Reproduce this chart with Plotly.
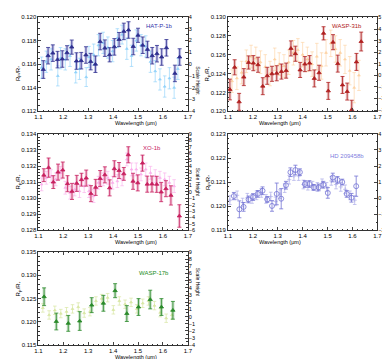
import plotly.graph_objects as go

# ---- HAT-P-1b ----
hat_wl = [1.120, 1.139, 1.158, 1.177, 1.196, 1.215, 1.234, 1.253, 1.272, 1.291, 1.310, 1.329, 1.348, 1.367, 1.386,
          1.405, 1.424, 1.443, 1.462, 1.481, 1.500, 1.519, 1.538, 1.557, 1.576, 1.595, 1.614, 1.648, 1.667]
hat_rp = [0.11554, 0.11671, 0.11693, 0.11638, 0.11643, 0.11696, 0.11744, 0.11626, 0.11629, 0.11677, 0.11621, 0.11599,
          0.11791, 0.11735, 0.11679, 0.11746, 0.11808, 0.11877, 0.11889, 0.11749, 0.11844, 0.11760, 0.11724, 0.11671,
          0.11688, 0.11660, 0.11738, 0.11521, 0.11660]
hat_err = [0.00075, 0.0007, 0.0007, 0.0007, 0.0007, 0.0006, 0.0006, 0.0007, 0.0007, 0.0007, 0.0007, 0.0007,
           0.0007, 0.0007, 0.0006, 0.0007, 0.0006, 0.0007, 0.0007, 0.0007, 0.0006, 0.0007, 0.0007, 0.0007,
           0.0007, 0.0007, 0.0007, 0.0007, 0.0007]
hat_wl2 = [1.113, 1.132, 1.151, 1.178, 1.189, 1.208, 1.227, 1.250, 1.265, 1.292, 1.303, 1.322, 1.341, 1.360, 1.379,
           1.398, 1.417, 1.436, 1.455, 1.474, 1.493, 1.512, 1.531, 1.550, 1.569, 1.588, 1.607, 1.626, 1.645, 1.660]
hat_rp2 = [0.1157, 0.1162, 0.1164, 0.1150, 0.1165, 0.1164, 0.1167, 0.1153, 0.1156, 0.1149, 0.1166, 0.1168, 0.1176,
           0.1178, 0.1174, 0.1171, 0.1182, 0.1185, 0.1173, 0.1167, 0.1180, 0.1176, 0.1175, 0.1162, 0.1154, 0.1147,
           0.1141, 0.1148, 0.1140, 0.1156]
hat_err2 = [0.0009, 0.0009, 0.0009, 0.00085, 0.0009, 0.0009, 0.0009, 0.0009, 0.0009, 0.0008, 0.0009, 0.0009, 0.0009,
            0.0009, 0.0009, 0.0009, 0.0008, 0.0008, 0.0009, 0.0009, 0.0009, 0.0009, 0.0009, 0.0009, 0.0009, 0.0009,
            0.0009, 0.0009, 0.0009, 0.0009]

# ---- WASP-31b ----
w31_wl = [1.108, 1.127, 1.145, 1.164, 1.183, 1.202, 1.221, 1.240, 1.258, 1.277, 1.296, 1.315, 1.334, 1.353, 1.371,
          1.390, 1.409, 1.428, 1.447, 1.466, 1.484, 1.503, 1.522, 1.541, 1.560, 1.579, 1.597, 1.616, 1.635]
w31_rp = [0.12231, 0.12466, 0.12100, 0.12362, 0.12517, 0.12510, 0.12493, 0.12266, 0.12376, 0.12397, 0.12403, 0.12421,
          0.12431, 0.12666, 0.12610, 0.12438, 0.12500, 0.12510, 0.12348, 0.12408, 0.12826, 0.12216, 0.12732, 0.12505,
          0.12279, 0.12209, 0.12017, 0.12523, 0.12739]
w31_err = [0.0011, 0.0008, 0.0009, 0.0009, 0.0007, 0.0008, 0.0008, 0.0009, 0.0009, 0.0008, 0.0008, 0.0008,
           0.0008, 0.0008, 0.0008, 0.0008, 0.0008, 0.0008, 0.0009, 0.0008, 0.0007, 0.0009, 0.0008, 0.0009,
           0.0009, 0.0009, 0.0010, 0.0009, 0.0010]
w31_wl2 = [1.117, 1.136, 1.155, 1.174, 1.193, 1.212, 1.231, 1.250, 1.269, 1.288, 1.306, 1.325, 1.344, 1.363, 1.381,
           1.400, 1.419, 1.438, 1.457, 1.476, 1.494, 1.513, 1.532, 1.551, 1.570, 1.589, 1.607, 1.626]
w31_rp2 = [0.1232, 0.1235, 0.1241, 0.1253, 0.1258, 0.1256, 0.1252, 0.1247, 0.1240, 0.1255, 0.1250, 0.1248, 0.1252,
           0.1262, 0.1265, 0.1260, 0.1255, 0.1250, 0.1258, 0.1248, 0.1262, 0.1272, 0.1266, 0.1262, 0.1255, 0.1243,
           0.1225, 0.1238]
w31_err2 = [0.0012, 0.0012, 0.0012, 0.0012, 0.0012, 0.0012, 0.0012, 0.0013, 0.0013, 0.0012, 0.0012, 0.0012, 0.0013,
            0.0013, 0.0012, 0.0013, 0.0013, 0.0013, 0.0014, 0.0014, 0.0014, 0.0014, 0.0014, 0.0014, 0.0015, 0.0015,
            0.0016, 0.0016]

# ---- XO-1b ----
xo_wl = [1.122, 1.141, 1.160, 1.179, 1.198, 1.217, 1.235, 1.254, 1.273, 1.292, 1.311, 1.330, 1.348, 1.367, 1.386,
         1.405, 1.424, 1.443, 1.461, 1.480, 1.499, 1.518, 1.537, 1.556, 1.575, 1.593, 1.612, 1.632, 1.666]
xo_rp = [0.13143, 0.13190, 0.13100, 0.13162, 0.13175, 0.13090, 0.13042, 0.13092, 0.13115, 0.13125, 0.13028, 0.13067,
         0.13122, 0.13145, 0.13064, 0.13183, 0.13172, 0.13151, 0.13270, 0.13105, 0.13095, 0.13218, 0.13087, 0.13088,
         0.13086, 0.13038, 0.13059, 0.13017, 0.12889]
xo_err = [0.0004, 0.0006, 0.0004, 0.0005, 0.0005, 0.0005, 0.0005, 0.0005, 0.0004, 0.0005, 0.0005, 0.0005,
          0.0005, 0.0005, 0.0005, 0.0005, 0.0005, 0.0004, 0.0005, 0.0005, 0.0005, 0.0005, 0.0005, 0.0005,
          0.0005, 0.0006, 0.0005, 0.0006, 0.0007]
xo_wl2 = [1.113, 1.132, 1.151, 1.170, 1.189, 1.208, 1.227, 1.246, 1.265, 1.284, 1.303, 1.322, 1.341, 1.360, 1.379,
          1.398, 1.417, 1.436, 1.455, 1.474, 1.493, 1.512, 1.531, 1.550, 1.569, 1.588, 1.607, 1.626, 1.645]
xo_rp2 = [0.13086, 0.13127, 0.13137, 0.13117, 0.13158, 0.13065, 0.13034, 0.13054, 0.13044, 0.13075, 0.13044, 0.13013,
          0.13096, 0.13117, 0.13127, 0.13096, 0.13106, 0.13117, 0.13241, 0.13179, 0.13179, 0.13148, 0.13179, 0.13158,
          0.13137, 0.13127, 0.13117, 0.13096, 0.13075]
xo_err2 = [0.0004] * 29

# ---- HD 209458b ----
hd_wl = [1.124, 1.146, 1.163, 1.183, 1.201, 1.220, 1.239, 1.258, 1.277, 1.296, 1.314, 1.333, 1.351, 1.371, 1.389,
         1.409, 1.427, 1.445, 1.464, 1.483, 1.501, 1.521, 1.540, 1.559, 1.577, 1.596, 1.615]
hd_rp = [0.12042, 0.11987, 0.11997, 0.12028, 0.12038, 0.12051, 0.12064, 0.12028, 0.12001, 0.12051, 0.12031, 0.12087,
         0.12141, 0.12150, 0.12141, 0.12092, 0.12092, 0.12078, 0.12078, 0.12089, 0.12055, 0.12119, 0.12109, 0.12100,
         0.12051, 0.12035, 0.12083]
hd_err = [0.00015, 0.00035, 0.00018, 0.00014, 0.00014, 0.00014, 0.00016, 0.00012, 0.00022, 0.00045, 0.00042, 0.00016,
          0.00018, 0.00020, 0.00014, 0.00014, 0.00014, 0.00012, 0.00014, 0.00014, 0.00022, 0.00018, 0.00014, 0.00012,
          0.00014, 0.00018, 0.00042]
hd_wl2 = [1.108, 1.137, 1.159, 1.178, 1.197, 1.215, 1.234, 1.253, 1.272, 1.291, 1.309, 1.328, 1.346, 1.365, 1.384,
          1.403, 1.421, 1.440, 1.459, 1.478, 1.496, 1.515, 1.534, 1.553, 1.571, 1.590, 1.609]
hd_rp2 = [0.12025, 0.12045, 0.12015, 0.12035, 0.12030, 0.12045, 0.12055, 0.12030, 0.12040, 0.12020, 0.12050, 0.12075,
          0.12110, 0.12125, 0.12125, 0.12090, 0.12085, 0.12085, 0.12080, 0.12095, 0.12080, 0.12105, 0.12090, 0.12080,
          0.12070, 0.12045, 0.12025]
hd_err2 = [0.00018] * 27

# ---- WASP-17b ----
w17_wl = [1.123, 1.172, 1.220, 1.266, 1.314, 1.361, 1.408, 1.455, 1.502, 1.549, 1.594, 1.640]
w17_rp = [0.1254, 0.1201, 0.1197, 0.1202, 0.1236, 0.1240, 0.1267, 0.1218, 0.1232, 0.1248, 0.1232, 0.1225]
w17_err = [0.0019, 0.0018, 0.0017, 0.0020, 0.0016, 0.0017, 0.0015, 0.0017, 0.0018, 0.0020, 0.0018, 0.0019]
w17_wl2 = [1.118, 1.143, 1.166, 1.190, 1.213, 1.237, 1.260, 1.284, 1.307, 1.331, 1.354, 1.378, 1.401, 1.425, 1.448,
           1.472, 1.495, 1.519, 1.542, 1.566, 1.589, 1.613, 1.636]
w17_rp2 = [0.1230, 0.1215, 0.1225, 0.1218, 0.1222, 0.1228, 0.1232, 0.1219, 0.1222, 0.1245, 0.1250, 0.1252, 0.1226,
           0.1245, 0.1238, 0.1242, 0.1228, 0.1240, 0.1245, 0.1235, 0.1220, 0.1208, 0.1215]
w17_err2 = [0.0009] * 23

panels = [
    dict(name="HAT-P-1b", a=(hat_wl, hat_rp, hat_err), b=(hat_wl2, hat_rp2, hat_err2),
         dark="#2f2f8f", box="rgba(120,120,200,0.4)", light="rgba(135,206,250,0.75)", sym="triangle-up",
         yr=[0.112, 0.120], ydt=0.002, sh=[-4, 4], lab=(0.913, 0.90), labc="#3333aa"),
    dict(name="WASP-31b", a=(w31_wl, w31_rp, w31_err), b=(w31_wl2, w31_rp2, w31_err2),
         dark="#b02020", box="rgba(200,100,100,0.35)", light="rgba(253,205,150,0.7)", sym="triangle-up",
         yr=[0.120, 0.130], ydt=0.002, sh=[-3.1, 5.05], lab=(0.913, 0.90), labc="#b02020"),
    dict(name="XO-1b", a=(xo_wl, xo_rp, xo_err), b=(xo_wl2, xo_rp2, xo_err2),
         dark="#c8205f", box="rgba(220,100,150,0.35)", light="rgba(250,170,235,0.75)", sym="triangle-up",
         yr=[0.128, 0.134], ydt=0.001, sh=[-6, 9], lab=(0.84, 0.85), labc="#c8205f"),
    dict(name="HD 209458b", a=(hd_wl, hd_rp, hd_err), b=(hd_wl2, hd_rp2, hd_err2),
         dark="#7474d4", box=None, light="rgba(170,170,232,0.85)", sym="circle-open",
         yr=[0.119, 0.123], ydt=0.001, sh=[-2, 4], lab=(0.925, 0.77), labc="#8080e0"),
    dict(name="WASP-17b", a=(w17_wl, w17_rp, w17_err), b=(w17_wl2, w17_rp2, w17_err2),
         dark="#2a8a2a", box="rgba(90,160,90,0.35)", light="rgba(215,230,160,0.85)", sym="triangle-up",
         yr=[0.115, 0.135], ydt=0.005, sh=[-4, 9], lab=(0.89, 0.77), labc="#228b22"),
]

W, H = 390, 359
xdoms = [[27 / W, 180 / W], [221 / W, 374 / W]]
ydoms = [[1 - 102 / H, 1 - 6 / H], [1 - 223 / H, 1 - 125 / H], [1 - 340 / H, 1 - 245 / H]]
font = "Liberation Sans, Arial, sans-serif"
tf = dict(family=font, size=6, color="black")
rtf = dict(family=font, size=5.5, color="black")

fig = go.Figure()
layout = dict(width=W, height=H, margin=dict(l=0, r=0, t=0, b=0), paper_bgcolor="white",
              plot_bgcolor="white", showlegend=False, font=dict(family=font, size=6))
annotations = []

for i, p in enumerate(panels):
    n = i + 1
    col, row = i % 2, i // 2
    xa, ya, ya2 = "x%d" % n, "y%d" % n, "y%d" % (n + 5)
    xk, yk, yk2 = "xaxis%d" % n, "yaxis%d" % n, "yaxis%d" % (n + 5)
    wl, rp, er = p["a"]
    wl2, rp2, er2 = p["b"]
    circ = p["sym"] == "circle-open"

    # light (second reduction) series
    fig.add_trace(go.Scatter(x=wl2, y=rp2, mode="markers", xaxis=xa, yaxis=ya,
                             marker=dict(symbol="cross-thin-open" if circ else "triangle-up",
                                         size=3 if circ else 2.5, color=p["light"],
                                         line=dict(color=p["light"], width=0.8)),
                             error_y=dict(type="data", array=er2, color=p["light"], thickness=0.8, width=1.8)))
    # shaded boxes behind the main error bars
    if p["box"]:
        fig.add_trace(go.Scatter(x=wl, y=rp, mode="markers", xaxis=xa, yaxis=ya,
                                 marker=dict(size=1, color="rgba(0,0,0,0)"),
                                 error_y=dict(type="data", array=er, color=p["box"], thickness=3, width=0)))
    fig.add_trace(go.Scatter(x=wl, y=rp, mode="markers", xaxis=xa, yaxis=ya,
                             marker=dict(symbol=p["sym"], size=5 if circ else 3.8,
                                         color=p["dark"], line=dict(color=p["dark"], width=0.8)),
                             error_y=dict(type="data", array=er, color=p["dark"], thickness=0.8, width=2)))
    # dummy trace so the scale-height axis is drawn
    fig.add_trace(go.Scatter(x=[1.4], y=[p["sh"][0]], mode="markers", xaxis=xa, yaxis=ya2,
                             marker=dict(size=1, color="rgba(0,0,0,0)"), hoverinfo="skip"))

    layout[xk] = dict(domain=xdoms[col], anchor=ya, range=[1.1, 1.7], dtick=0.1, tickformat=".1f",
                      ticks="inside", ticklen=3, tickwidth=0.6, mirror="ticks", showline=True,
                      linecolor="#333", linewidth=0.8, showgrid=False, zeroline=False, tickfont=tf,
                      minor=dict(ticks="inside", ticklen=1.5, dtick=0.02, tickcolor="#333", tickwidth=0.5))
    layout[yk] = dict(domain=ydoms[row], anchor=xa, range=p["yr"], dtick=p["ydt"], tickformat=".3f",
                      ticks="inside", ticklen=3, tickwidth=0.6, showline=True, mirror=True,
                      linecolor="#333", linewidth=0.8, showgrid=False, zeroline=False, tickfont=tf,
                      minor=dict(ticks="inside", ticklen=1.5, nticks=5, tickcolor="#333", tickwidth=0.5))
    layout[yk2] = dict(overlaying=ya, anchor=xa, side="right", range=p["sh"], dtick=1,
                       ticks="inside", ticklen=3, tickwidth=0.6, showline=False, showgrid=False,
                       zeroline=False, tickfont=rtf,
                       minor=dict(ticks="inside", ticklen=1.5, dtick=0.5, tickcolor="#333", tickwidth=0.5))

    x0, x1 = xdoms[col]
    y0, y1 = ydoms[row]
    annotations.append(dict(x=x1, xref="paper", xanchor="right", xshift=-(1 - p["lab"][0]) * 153,
                            y=y0 + p["lab"][1] * (y1 - y0), yref="paper", yanchor="middle",
                            text=p["name"], showarrow=False, font=dict(family=font, size=6, color=p["labc"])))
    annotations.append(dict(x=(x0 + x1) / 2, y=y0, xref="paper", yref="paper", yshift=-12,
                            yanchor="middle", text="Wavelength (\u03bcm)", showarrow=False,
                            font=dict(family=font, size=5.5, color="black")))
    annotations.append(dict(x=x0, y=(y0 + y1) / 2, xref="paper", yref="paper", xshift=-20,
                            xanchor="center", text="R<sub>P</sub>/R<sub>*</sub>", textangle=-90,
                            showarrow=False, font=dict(family=font, size=6, color="black")))
    annotations.append(dict(x=x1, y=(y0 + y1) / 2, xref="paper", yref="paper", xshift=10.5,
                            xanchor="center", text="Scale Height", textangle=90,
                            showarrow=False, font=dict(family=font, size=5, color="black")))

layout["annotations"] = annotations
fig.update_layout(**layout)
fig.write_html("out.html")
